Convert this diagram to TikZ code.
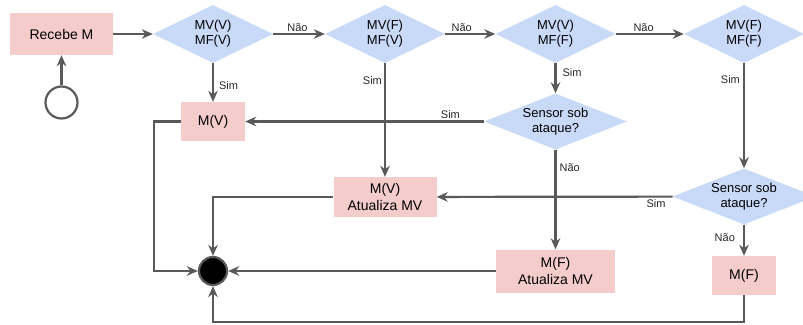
\documentclass[tikz,border=0pt]{standalone}
\usepackage{fontspec}
\setmainfont{Liberation Sans}
\usetikzlibrary{shapes.geometric,arrows.meta}
\definecolor{boxpink}{HTML}{F4CCCC}
\definecolor{diablue}{HTML}{C9DAF8}
\definecolor{linegray}{HTML}{595959}
\begin{document}
\begin{tikzpicture}[x=1pt,y=-1pt,
  box/.style={rectangle, fill=boxpink, draw=none, inner sep=0pt, align=center, font=\fontsize{14}{17.5}\selectfont},
  dia/.style={diamond, fill=diablue, draw=none, inner sep=0pt, shape aspect=2.5, align=center, font=\fontsize{13}{15}\selectfont},
  lbl/.style={font=\fontsize{11}{13}\selectfont, inner sep=0pt, text=black!85},
  conn/.style={draw=linegray, line width=2.2pt, -{Stealth[length=11pt,width=9.5pt,inset=3.5pt]}}]
\useasboundingbox (0,0) rectangle (803,324);
\clip (0,0) rectangle (803,324);
% nodes
\node[box, minimum width=103pt, minimum height=42pt] (recebe) at (61.5,34) {Recebe M};
\node[circle, draw=linegray, line width=2.2pt, minimum size=32pt, inner sep=0pt] (start) at (61.5,102.5) {};
\node[dia, minimum width=120pt, minimum height=58pt] (d1) at (213,34) {MV(V)\\MF(V)};
\node[dia, minimum width=120pt, minimum height=58pt] (d2) at (385,34) {MV(F)\\MF(V)};
\node[dia, minimum width=120pt, minimum height=58pt] (d3) at (555.5,34) {MV(V)\\MF(F)};
\node[dia, minimum width=120pt, minimum height=58pt] (d4) at (744,34) {MV(F)\\MF(F)};
\node[box, minimum width=64pt, minimum height=39pt] (mv) at (213,121.5) {M(V)};
\node[dia, minimum width=143pt, minimum height=56pt] (s1) at (555.5,121.5) {Sensor sob\\ataque?};
\node[box, minimum width=103pt, minimum height=40pt] (mva) at (385,197) {M(V)\\Atualiza MV};
\node[box, minimum width=119pt, minimum height=43pt] (mfa) at (555.5,271) {M(F)\\Atualiza MV};
\node[dia, minimum width=143pt, minimum height=56pt] (s2) at (744,196.5) {Sensor sob\\ataque?};
\node[box, minimum width=64pt, minimum height=39pt] (mf) at (744,275.5) {M(F)};
\node[circle, fill=black, draw=linegray, line width=2.2pt, minimum size=28pt, inner sep=0pt] (end) at (213,271) {};
% connectors
\draw[conn] (start) -- (recebe);
\draw[conn] (recebe) -- (d1);
\draw[conn] (d1) -- node[lbl, above=1.5pt, pos=0.47] {Não} (d2);
\draw[conn] (d2) -- node[lbl, above=1.5pt, pos=0.33] {Não} (d3);
\draw[conn] (d3) -- node[lbl, above=1.5pt, pos=0.41] {Não} (d4);
\draw[conn] (d1) -- node[lbl, right=5pt, pos=0.57] {Sim} (mv);
\draw[conn] (d2) -- node[lbl, left=2pt, pos=0.15] {Sim} (mva);
\draw[conn] (d3) -- node[lbl, right=6pt, pos=0.3] {Sim} (s1);
\draw[conn] (d4) -- node[lbl, left=3pt, pos=0.16] {Sim} (s2);
\draw[conn] (s1) -- node[lbl, above=1.5pt, pos=0.14] {Sim} (mv);
\draw[conn] (s1) -- node[lbl, right=3pt, pos=0.18] {Não} (mfa);
\draw[conn] (s2) -- node[lbl, below=1.5pt, pos=0.07] {Sim} (mva);
\draw[conn] (s2) -- node[lbl, left=8pt, pos=0.4] {Não} (mf);
\draw[conn] (mv.west) -- ++(-27,0) |- (end);
\draw[conn] (mva.west) -| (end);
\draw[conn] (mfa) -- (end);
\draw[conn] (mf.south) -- ++(0,27) -| (end);
\end{tikzpicture}
\end{document}
